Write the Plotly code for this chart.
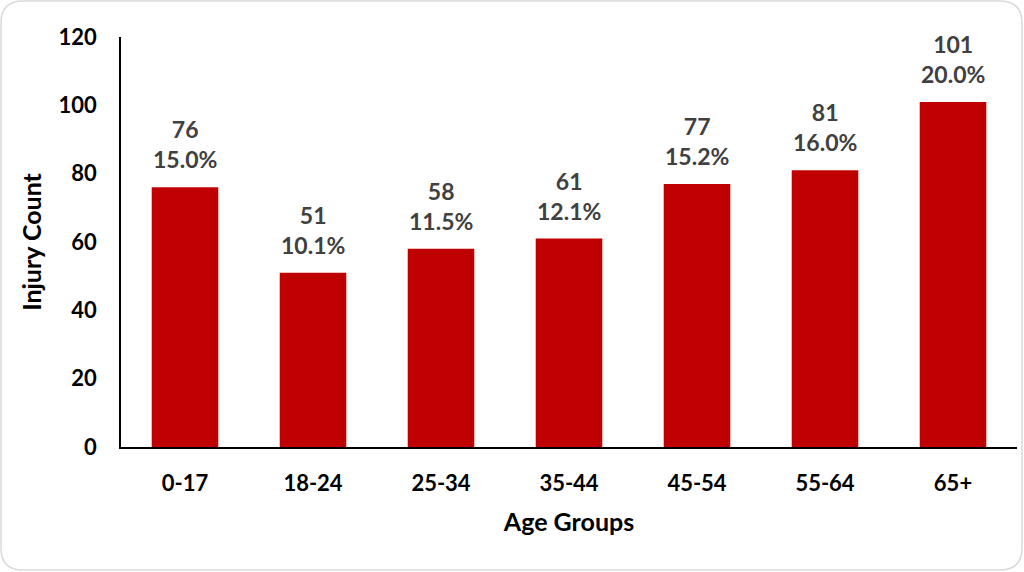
import plotly.graph_objects as go

age_groups = ["0-17", "18-24", "25-34", "35-44", "45-54", "55-64", "65+"]
injury_counts = [76, 51, 58, 61, 77, 81, 101]
shares = ["15.0%", "10.1%", "11.5%", "12.1%", "15.2%", "16.0%", "20.0%"]
y_ticks = [0, 20, 40, 60, 80, 100, 120]

W, H = 1024, 572
L, R, T, B = 121, 7, 37, 125
pw, ph = W - L - R, H - T - B

FONT = "Lato"
BAR = "#C00000"
LABEL = "#404040"

fig = go.Figure()
fig.add_trace(go.Bar(
    x=age_groups,
    y=injury_counts,
    marker=dict(color=BAR, line=dict(width=0)),
    hoverinfo="x+y",
))

# value + share labels above each bar
for g, v, s in zip(age_groups, injury_counts, shares):
    fig.add_annotation(
        x=g, y=v, text=f"{v}<br>{s}", showarrow=False,
        yanchor="bottom", yshift=12,
        font=dict(family=FONT, size=23, color=LABEL, weight="bold"),
    )


# rounded outer frame, paper coords
def px_x(p):
    return (p - L) / pw


def px_y(p):
    return (H - B - p) / ph


x0, x1 = px_x(1), px_x(1022)
y0, y1 = px_y(570), px_y(1)
rx, ry = 22 / pw, 22 / ph
path = (f"M {x0+rx},{y1} L {x1-rx},{y1} Q {x1},{y1} {x1},{y1-ry} "
        f"L {x1},{y0+ry} Q {x1},{y0} {x1-rx},{y0} "
        f"L {x0+rx},{y0} Q {x0},{y0} {x0},{y0+ry} "
        f"L {x0},{y1-ry} Q {x0},{y1} {x0+rx},{y1} Z")
fig.add_shape(type="path", path=path, xref="paper", yref="paper",
              line=dict(color="#D9D9D9", width=1.5), layer="below")

fig.update_layout(
    width=W, height=H,
    margin=dict(l=L, r=R, t=T, b=B),
    paper_bgcolor="white", plot_bgcolor="white",
    bargap=0.48,
    showlegend=False,
    font=dict(family=FONT, color="black"),
    xaxis=dict(
        showline=True, linecolor="black", linewidth=1.5,
        showgrid=False, ticks="", ticklabelstandoff=16,
        tickfont=dict(family=FONT, size=22, color="black", weight="bold"),
        title=dict(text="Age Groups", standoff=18,
                   font=dict(family=FONT, size=25, color="black", weight="bold")),
    ),
    yaxis=dict(
        range=[0, 120], tickvals=y_ticks,
        showline=True, linecolor="black", linewidth=1.5,
        showgrid=False, zeroline=False, ticks="", ticklabelstandoff=18,
        tickfont=dict(family=FONT, size=22, color="black", weight="bold"),
        title=dict(text="Injury Count", standoff=10,
                   font=dict(family=FONT, size=25, color="black", weight="bold")),
    ),
)

fig.write_html("out.html", config={"displayModeBar": False},
               post_script="document.body.style.margin='0';")
